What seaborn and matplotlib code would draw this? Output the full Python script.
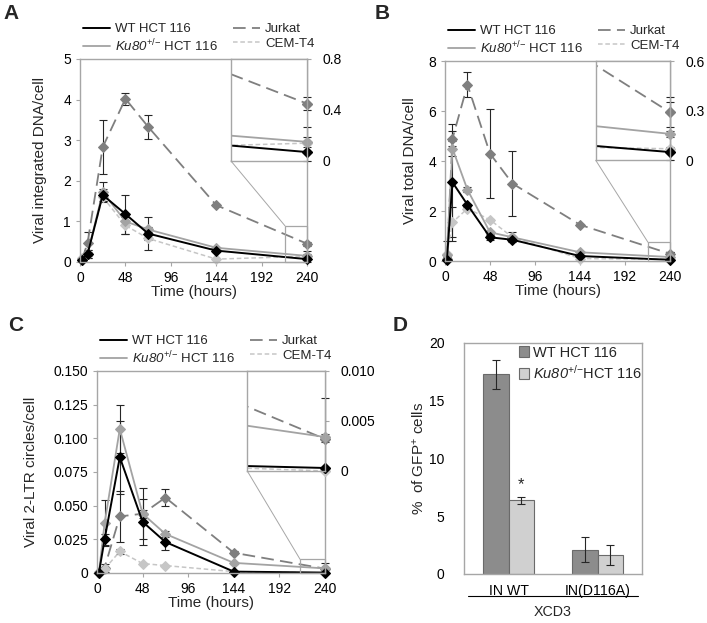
import numpy as np
import pandas as pd
import matplotlib
matplotlib.use("Agg")
import matplotlib.pyplot as plt
from matplotlib.patches import Rectangle, ConnectionPatch
from matplotlib.lines import Line2D
import seaborn as sns

# time points (hours)
times = [2, 8, 24, 48, 72, 144, 240]

# A - integrated DNA per cell
a_wt = [0.05, 0.2, 1.65, 1.18, 0.70, 0.28, 0.07]
a_wt_err = [0.02, 0.1, 0.15, 0.48, 0.40, 0.03, 0.2]
a_ku = [0.08, 0.2, 1.72, 1.0, 0.80, 0.35, 0.15]
a_ku_err = [0.03, 0.1, 0.25, 0.1, 0.05, 0.03, 0.04]
a_jk = [0.05, 0.47, 2.83, 4.02, 3.33, 1.40, 0.45]
a_jk_err = [0.02, 0.27, 0.66, 0.15, 0.30, 0.03, 0.05]
a_cem = [0.1, 0.2, 1.6, 0.9, 0.58, 0.07, 0.14]
a_cem_err = [0.0, 0.05, 0.1, 0.2, 0.03, 0.01, 0.01]

# B - total DNA per cell
b_wt = [0.05, 3.15, 2.25, 0.95, 0.85, 0.2, 0.05]
b_wt_err = [0.02, 2.35, 0.05, 0.1, 0.05, 0.02, 0.3]
b_ku = [0.25, 4.5, 2.85, 1.15, 0.95, 0.35, 0.16]
b_ku_err = [0.05, 0.3, 0.1, 0.05, 0.2, 0.03, 0.02]
b_jk = [0.1, 4.9, 7.05, 4.3, 3.1, 1.45, 0.29]
b_jk_err = [0.05, 0.3, 0.5, 1.77, 1.3, 0.03, 0.09]
b_cem = [0.3, 1.55, 2.1, 1.65, 0.95, 0.1, 0.07]
b_cem_err = [0.5, 0.6, 0.05, 0.05, 0.05, 0.02, 0.01]

# C - 2-LTR circles per cell
c_wt = [0.0, 0.025, 0.086, 0.038, 0.023, 0.001, 0.0003]
c_wt_err = [0.0, 0.004, 0.027, 0.017, 0.006, 0.0005, 0.007]
c_ku = [0.0, 0.037, 0.107, 0.044, 0.029, 0.0075, 0.0034]
c_ku_err = [0.0, 0.017, 0.018, 0.019, 0.002, 0.001, 0.0003]
c_jk = [0.0005, 0.004, 0.042, 0.044, 0.056, 0.015, 0.0032]
c_jk_err = [0.0, 0.003, 0.019, 0.003, 0.0065, 0.001, 0.0003]
c_cem = [0.0, 0.003, 0.016, 0.007, 0.0055, 0.001, 0.0]
c_cem_err = [0.0, 0.001, 0.002, 0.0005, 0.0005, 0.0002, 0.0]

# D - % GFP+ cells
d_constructs = ["IN WT", "IN(D116A)"]
d_wt = [17.3, 2.1]
d_wt_err = [1.25, 1.1]
d_ku = [6.4, 1.65]
d_ku_err = [0.3, 0.9]

WT = "WT HCT 116"
KU = r"$\mathsf{Ku80}^{{+}/{-}}$ HCT 116"
KU_D = r"$\mathsf{Ku80}^{{+}/{-}}$HCT 116"
JK = "Jurkat"
CEM = "CEM-T4"

sns.set_style("ticks")
plt.rcParams['font.family'] = ['Liberation Sans', 'DejaVu Sans']
plt.rcParams['mathtext.fontset'] = 'custom'
plt.rcParams['mathtext.rm'] = 'Liberation Sans'
plt.rcParams['mathtext.sf'] = 'Liberation Sans:italic'
plt.rcParams['mathtext.it'] = 'Liberation Sans:italic'
plt.rcParams['mathtext.bf'] = 'Liberation Sans:bold'

SPINE = '#a6a6a6'
ERR = '#262626'
styles = {
    JK: dict(color='#7f7f7f', ls=(0, (7, 3.5)), lw=1.3),
    CEM: dict(color='#c6c6c6', ls=(0, (3, 1.8)), lw=1.1),
    KU: dict(color='#a3a3a3', ls='-', lw=1.3),
    WT: dict(color='black', ls='-', lw=1.4),
}

fig = plt.figure(figsize=(7.07, 6.23), dpi=100)


def style_axes(ax):
    for s in ax.spines.values():
        s.set_color(SPINE)
        s.set_linewidth(1.0)
    ax.tick_params(colors=SPINE, labelcolor='black', length=3, width=0.8,
                   labelsize=10)


def err_pair(vals, errs):
    v = np.array(vals)
    e = np.array(errs)
    return np.vstack([np.minimum(e, v), e])


def line_panel(rect, series, ylim, yticks, yticklabels, ylabel, ylabel_x,
               in_bounds, in_ylim, in_ticks, in_labels, zoom_x0, box_top):
    ax = fig.add_axes(rect)
    ax_in = ax.inset_axes(in_bounds)
    for name, vals, errs in series:
        st = styles[name]
        sns.lineplot(x=times, y=vals, ax=ax, color=st['color'], linestyle=st['ls'],
                     linewidth=st['lw'], marker='D', markersize=4.8,
                     markeredgecolor=st['color'], markerfacecolor=st['color'],
                     clip_on=False, legend=False)
        e = np.array(errs)
        m = e > 0
        ax.errorbar(np.array(times)[m], np.array(vals)[m], yerr=err_pair(vals, errs)[:, m],
                    fmt='none', ecolor=ERR, elinewidth=0.8, capsize=3, capthick=0.8,
                    clip_on=False, zorder=1.5)
        # inset
        sns.lineplot(x=times, y=vals, ax=ax_in, color=st['color'], linestyle=st['ls'],
                     linewidth=st['lw'], legend=False)
        ax_in.errorbar(times[-1:], vals[-1:], yerr=err_pair(vals[-1:], errs[-1:]),
                       fmt='D', ms=4.8, color=st['color'], ecolor=ERR, elinewidth=0.8,
                       capsize=3, capthick=0.8, clip_on=False)
    ax.set_xlim(0, 240)
    ax.set_xticks([0, 48, 96, 144, 192, 240])
    ax.set_ylim(*ylim)
    ax.set_yticks(yticks)
    ax.set_yticklabels(yticklabels)
    ax.set_xlabel("Time (hours)", fontsize=11)
    ax.set_ylabel(ylabel, fontsize=11)
    ax.yaxis.set_label_coords(ylabel_x, 0.5)
    ax.xaxis.set_label_coords(0.5, -0.115)
    style_axes(ax)

    ax_in.set_xlim(zoom_x0, 240)
    ax_in.set_ylim(*in_ylim)
    ax_in.set_xticks([])
    ax_in.yaxis.tick_right()
    ax_in.set_yticks(in_ticks)
    ax_in.set_yticklabels(in_labels)
    ax_in.set_xlabel("")
    ax_in.set_ylabel("")
    style_axes(ax_in)
    ax_in.tick_params(axis='y', pad=8)

    ax.add_patch(Rectangle((zoom_x0, 0), 240 - zoom_x0, box_top, fill=False,
                           ec=SPINE, lw=0.9, clip_on=False, zorder=3))
    con = ConnectionPatch(xyA=(0, 0), coordsA=ax_in.transAxes,
                          xyB=(zoom_x0, box_top), coordsB=ax.transData,
                          color=SPINE, lw=0.7)
    fig.add_artist(con)

    handles = [Line2D([], [], color=styles[n]['color'], ls=styles[n]['ls'],
                      lw=styles[n]['lw']) for n in [WT, KU, JK, CEM]]
    ax.legend(handles, [WT, KU, JK, CEM], ncol=2, loc='lower left',
              bbox_to_anchor=(0.013, 1.025), frameon=False, fontsize=9.5,
              handlelength=2.05, handletextpad=0.4, columnspacing=1.1,
              labelspacing=0.15, borderpad=0, borderaxespad=0)
    return ax


line_panel([0.1132, 0.5795, 0.3211, 0.3258],
           [(JK, a_jk, a_jk_err), (CEM, a_cem, a_cem_err), (KU, a_ku, a_ku_err), (WT, a_wt, a_wt_err)],
           (0, 5), [0, 1, 2, 3, 4, 5], ["0", "1", "2", "3", "4", "5"],
           "Viral integrated DNA/cell", -0.145,
           [0.665, 0.4975, 0.335, 0.5025], (0, 0.8), [0, 0.4, 0.8], ["0", "0.4", "0.8"],
           216.7, 0.89)

line_panel([0.6294, 0.5810, 0.3183, 0.3210],
           [(JK, b_jk, b_jk_err), (CEM, b_cem, b_cem_err), (KU, b_ku, b_ku_err), (WT, b_wt, b_wt_err)],
           (0, 8), [0, 2, 4, 6, 8], ["0", "2", "4", "6", "8"],
           "Viral total DNA/cell", -0.124,
           [0.67, 0.5035, 0.33, 0.4965], (0, 0.6), [0, 0.3, 0.6], ["0", "0.3", "0.6"],
           216.5, 0.75)

line_panel([0.1372, 0.0803, 0.3225, 0.3242],
           [(JK, c_jk, c_jk_err), (CEM, c_cem, c_cem_err), (KU, c_ku, c_ku_err), (WT, c_wt, c_wt_err)],
           (0, 0.15), [0, 0.025, 0.05, 0.075, 0.1, 0.125, 0.15],
           ["0", "0.025", "0.050", "0.075", "0.100", "0.125", "0.150"],
           "Viral 2-LTR circles/cell", -0.259,
           [0.659, 0.505, 0.341, 0.495], (0, 0.010), [0, 0.005, 0.010], ["0", "0.005", "0.010"],
           213.7, 0.0102)

# panel D
axd = fig.add_axes([0.6563, 0.0787, 0.2518, 0.3708])
df = pd.DataFrame({
    'construct': d_constructs * 2,
    'cell': [WT] * len(d_wt) + [KU_D] * len(d_ku),
    'pct': d_wt + d_ku,
})
sns.barplot(data=df, x='construct', y='pct', hue='cell', palette=['#8c8c8c', '#d0d0d0'],
            width=0.57, errorbar=None, edgecolor='#6a6a6a', linewidth=0.8,
            saturation=1, ax=axd)
for cont, errs in zip(axd.containers, [d_wt_err, d_ku_err]):
    xs = [b.get_x() + b.get_width() / 2 for b in cont]
    ys = [b.get_height() for b in cont]
    axd.errorbar(xs, ys, yerr=errs, fmt='none', ecolor=ERR, elinewidth=0.8,
                 capsize=3, capthick=0.8)
bar = axd.containers[1][0]
axd.text(bar.get_x() + bar.get_width() / 2, d_ku[0] + d_ku_err[0] + 1.0, "*",
         ha='center', va='center', fontsize=12)
axd.set_ylim(0, 20)
axd.set_yticks([0, 5, 10, 15, 20])
axd.set_xlim(-0.5, 1.5)
axd.set_xlabel("")
axd.set_ylabel(r"%  of GFP$^{+}$ cells", fontsize=11)
axd.yaxis.set_label_coords(-0.208, 0.5)
style_axes(axd)
axd.tick_params(axis='x', length=0, pad=7, labelsize=10.2)
axd.tick_params(axis='y', length=0, pad=14)
axd.legend(loc='upper left', bbox_to_anchor=(0.29, 1.0), frameon=False, fontsize=10.5,
           handlelength=0.75, handleheight=0.75, handletextpad=0.25,
           labelspacing=0.25, borderpad=0.2, borderaxespad=0)
axd.plot([0.022, 0.978], [-0.095, -0.095], transform=axd.transAxes, color='black',
         lw=0.8, clip_on=False)
axd.text(0.5, -0.165, "XCD3", transform=axd.transAxes, ha='center', va='center',
         fontsize=10.3)

# panel letters
for lbl, x, y in [("A", 0.005, 0.993), ("B", 0.530, 0.993), ("C", 0.011, 0.492), ("D", 0.556, 0.492)]:
    fig.text(x, y, lbl, fontsize=15, fontweight='bold', va='top', ha='left')

fig.savefig("out.png", dpi=100)
